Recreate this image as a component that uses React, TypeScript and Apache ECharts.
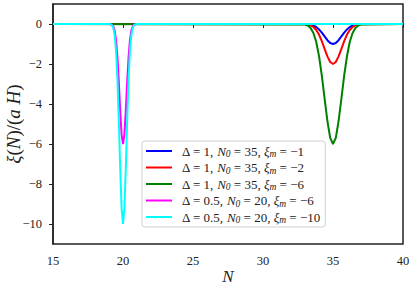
import React, { useEffect, useRef } from "react";
import * as echarts from "echarts";

const n35 = [15, 33, 33.2, 33.4, 33.6, 33.8, 34, 34.2, 34.4, 34.6, 34.8, 35, 35.2, 35.4, 35.6, 35.8, 36, 36.2, 36.4, 36.6, 36.8, 37, 40];
const blueVals = [0, 0, -0.01, -0.03, -0.08, -0.15, -0.27, -0.43, -0.62, -0.81, -0.95, -1, -0.95, -0.81, -0.62, -0.43, -0.27, -0.15, -0.08, -0.03, -0.01, 0, 0];
const redVals = [0, -0.01, -0.03, -0.07, -0.15, -0.3, -0.53, -0.86, -1.24, -1.62, -1.9, -2, -1.9, -1.62, -1.24, -0.86, -0.53, -0.3, -0.15, -0.07, -0.03, -0.01, 0];
const greenVals = [0, -0.03, -0.08, -0.2, -0.45, -0.89, -1.6, -2.57, -3.73, -4.85, -5.69, -6, -5.69, -4.85, -3.73, -2.57, -1.6, -0.89, -0.45, -0.2, -0.08, -0.03, 0];

const n20 = [15, 19, 19.1, 19.2, 19.3, 19.4, 19.5, 19.6, 19.7, 19.8, 19.9, 20, 20.1, 20.2, 20.3, 20.4, 20.5, 20.6, 20.7, 20.8, 20.9, 21, 40];
const magentaVals = [0, 0, -0.01, -0.03, -0.11, -0.32, -0.78, -1.63, -2.88, -4.33, -5.53, -6, -5.53, -4.33, -2.88, -1.63, -0.78, -0.32, -0.11, -0.03, -0.01, 0, 0];
const cyanVals = [0, 0, -0.01, -0.05, -0.18, -0.53, -1.3, -2.71, -4.8, -7.21, -9.22, -10, -9.22, -7.21, -4.8, -2.71, -1.3, -0.53, -0.18, -0.05, -0.01, 0, 0];

const seriesNames = ["s1", "s2", "s3", "s4", "s5"];
const legendLabels = [
  "{r|Δ = 1, }{i|N}{s|0}{r| = 35, }{i|ξ}{s|m}{r| = −1}",
  "{r|Δ = 1, }{i|N}{s|0}{r| = 35, }{i|ξ}{s|m}{r| = −2}",
  "{r|Δ = 1, }{i|N}{s|0}{r| = 35, }{i|ξ}{s|m}{r| = −6}",
  "{r|Δ = 0.5, }{i|N}{s|0}{r| = 20, }{i|ξ}{s|m}{r| = −6}",
  "{r|Δ = 0.5, }{i|N}{s|0}{r| = 20, }{i|ξ}{s|m}{r| = −10}",
];
const colors = ["#0000ff", "#ff0000", "#008000", "#ff00ff", "#00ffff"];
const xTicks = [15, 20, 25, 30, 35, 40];
const yTicks = [-10, -8, -6, -4, -2, 0];

const zip = (xs: number[], ys: number[]) => xs.map((x, i) => [x, ys[i]]);

export default function App() {
  const ref = useRef<HTMLDivElement>(null);
  useEffect(() => {
    if (!ref.current) return;
    const chart = echarts.init(ref.current, undefined, { renderer: "svg" });
    const font = "Liberation Serif";
    const seriesData = [
      zip(n35, blueVals),
      zip(n35, redVals),
      zip(n35, greenVals),
      zip(n20, magentaVals),
      zip(n20, cyanVals),
    ];
    chart.setOption({
      animation: false,
      grid: {
        left: 53,
        right: 12,
        top: 4,
        bottom: 44,
        containLabel: false,
        outerBoundsMode: "none",
        show: true,
        borderColor: "#222",
        borderWidth: 1.5,
        backgroundColor: "#fff",
      },
      legend: {
        orient: "vertical",
        left: 142,
        top: 141,
        data: seriesNames,
        icon: "rect",
        itemWidth: 26,
        itemHeight: 2,
        itemGap: 0.5,
        padding: [2, 5, 2, 4],
        backgroundColor: "rgba(255,255,255,0.8)",
        borderColor: "#d0d0d0",
        borderWidth: 1,
        borderRadius: 3,
        formatter: (name: string) => legendLabels[seriesNames.indexOf(name)],
        textStyle: {
          fontFamily: font,
          fontSize: 13,
          color: "#222",
          padding: [0, 0, 0, 5],
          rich: {
            r: { fontFamily: font, fontSize: 13, color: "#222", lineHeight: 17.5 },
            i: { fontFamily: font, fontStyle: "italic", fontSize: 13, color: "#222", lineHeight: 17.5 },
            s: { fontFamily: font, fontStyle: "italic", fontSize: 9.5, color: "#222", lineHeight: 8, padding: [6, 0, 0, 0] },
          },
        },
      },
      xAxis: {
        type: "value",
        min: 15,
        max: 40,
        interval: 5,
        name: "N",
        nameLocation: "middle",
        nameGap: 24,
        nameMoveOverlap: false,
        nameTextStyle: { fontFamily: font, fontStyle: "italic", fontSize: 17, color: "#222", verticalAlign: "top" },
        axisLine: { show: true, lineStyle: { color: "#222", width: 1.5 } },
        axisTick: { show: true, length: 4, inside: false, lineStyle: { color: "#222", width: 1 } },
        axisLabel: {
          fontFamily: font,
          fontSize: 12.5,
          color: "#222",
          margin: 10,
          customValues: xTicks,
        },
        splitLine: { show: false },
      },
      yAxis: {
        type: "value",
        min: -11,
        max: 1,
        name: "{i|ξ}{r|(}{i|N}{r|)/(}{i|a H}{r|)}",
        nameLocation: "middle",
        nameRotate: 90,
        nameGap: 30,
        nameMoveOverlap: false,
        nameTextStyle: {
          fontFamily: font,
          fontSize: 19,
          color: "#222",
          rich: {
            i: { fontFamily: font, fontStyle: "italic", fontSize: 19, color: "#222" },
            r: { fontFamily: font, fontSize: 19, color: "#222" },
          },
        },
        axisLine: { show: true, lineStyle: { color: "#222", width: 1.5 } },
        axisTick: { show: true, length: 4, inside: false, lineStyle: { color: "#222", width: 1 }, customValues: yTicks },
        axisLabel: {
          fontFamily: font,
          fontSize: 12.5,
          color: "#222",
          margin: 11,
          customValues: yTicks,
          formatter: (v: number) => (v < 0 ? "\u2212" + Math.abs(v) : String(v)),
        },
        splitLine: { show: false },
      },
      series: seriesNames.map((name, i) => ({
        name,
        type: "line",
        data: seriesData[i],
        showSymbol: false,
        symbol: "none",
        smooth: false,
        color: colors[i],
        lineStyle: { color: colors[i], width: 2 },
        z: 2 + i,
      })),
    });
    return () => chart.dispose();
  }, []);
  return <div ref={ref} style={{ width: 415, height: 288, position: "absolute", left: 0, top: 0 }} />;
}
